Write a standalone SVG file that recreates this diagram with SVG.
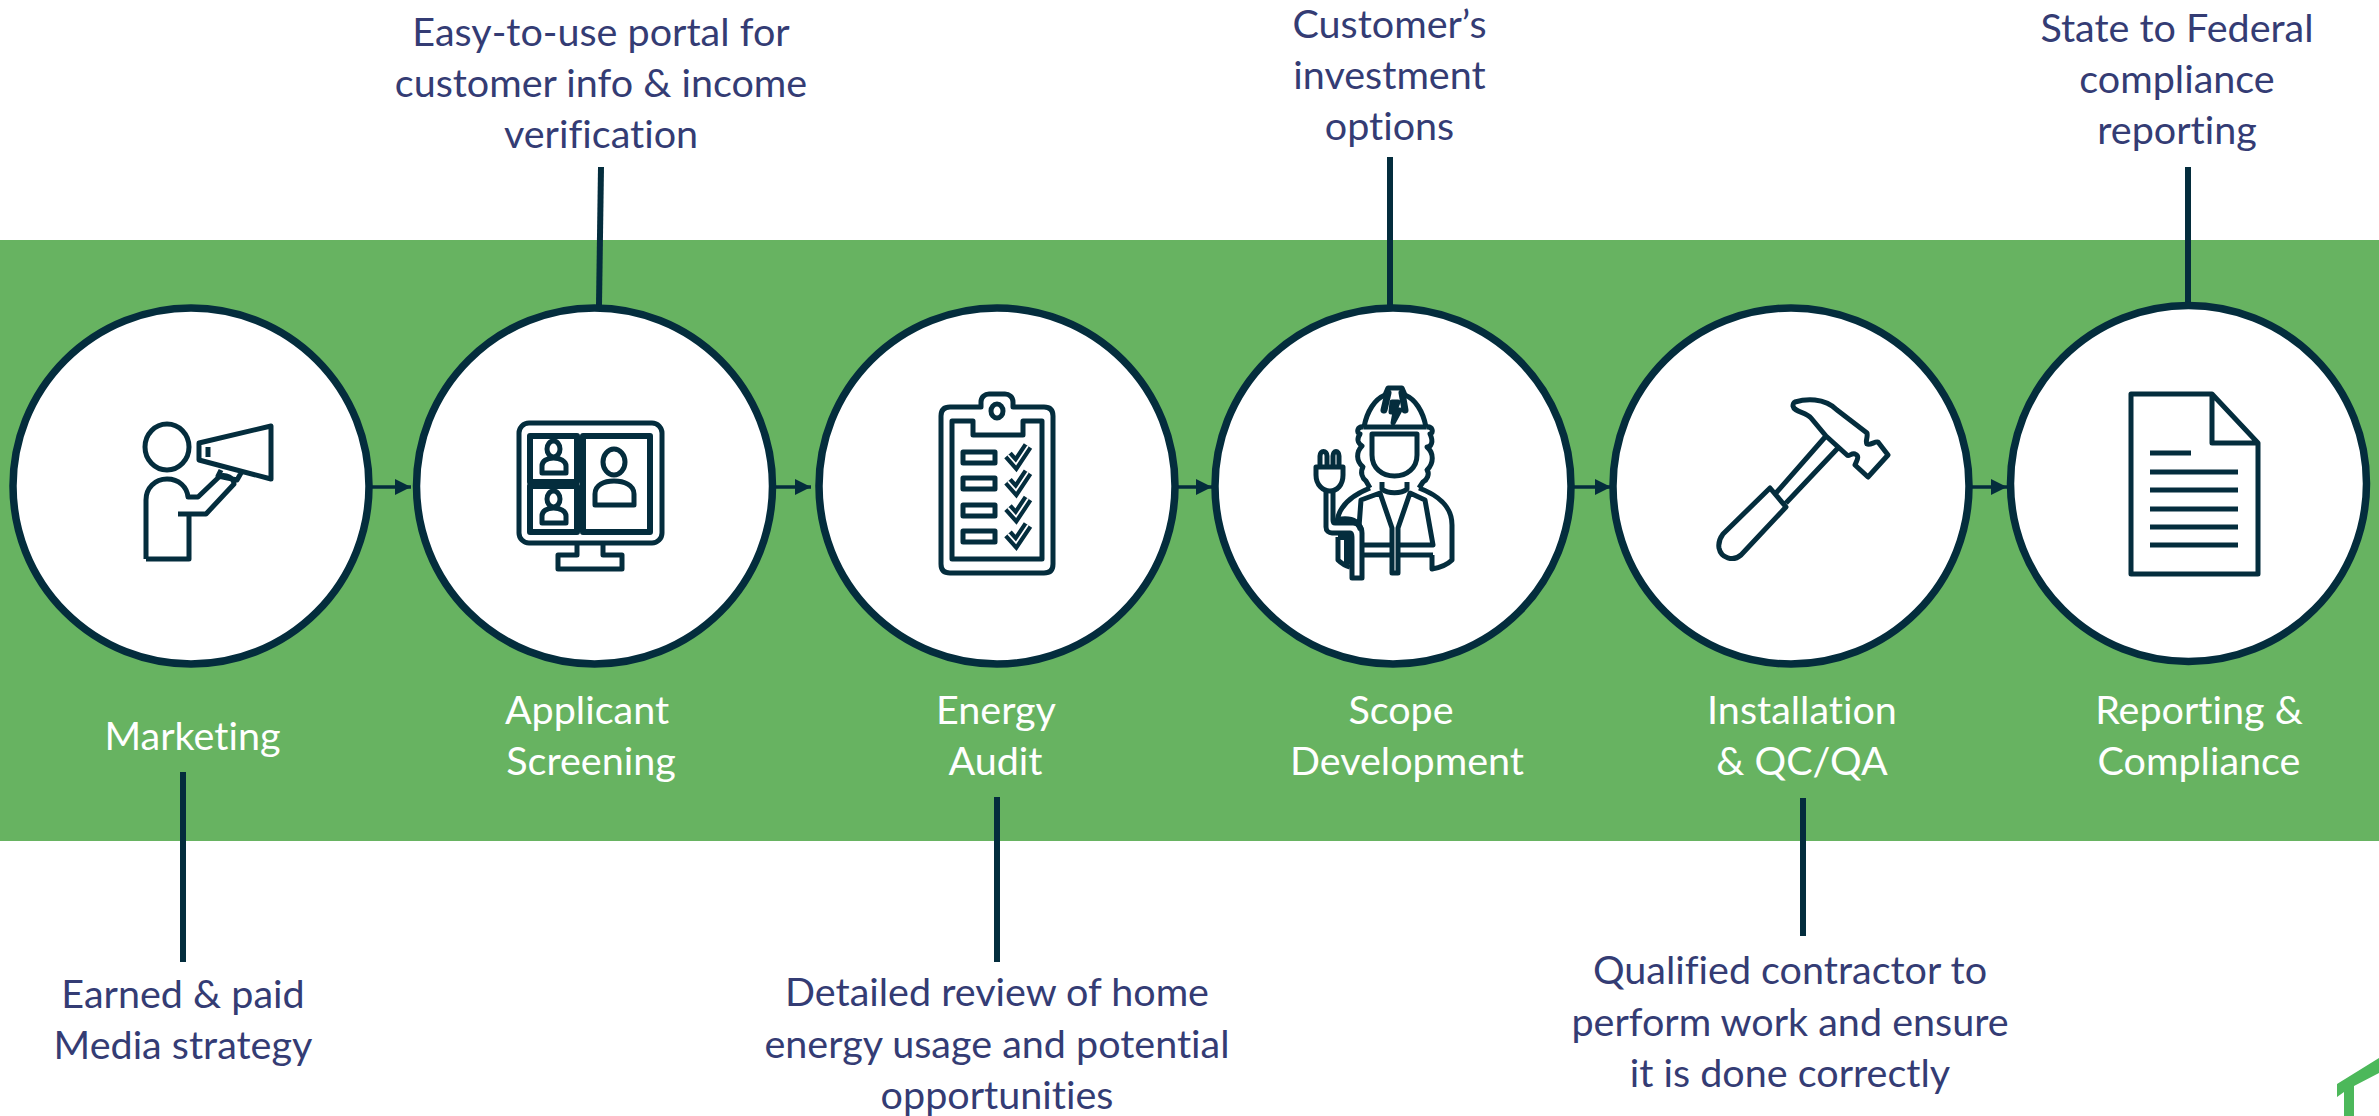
<svg xmlns="http://www.w3.org/2000/svg" width="2379" height="1116" viewBox="0 0 2379 1116">
<style>
text{font-family:"Lato","Carlito","Liberation Sans",sans-serif;font-size:39.5px;text-anchor:middle;font-variant-ligatures:none}
.d{fill:#343C74}.w{fill:#fff}
.c{fill:#fff;stroke:#042D3D;stroke-width:7.5}
.i{fill:none;stroke:#042D3D;stroke-width:5;stroke-linejoin:round}
.t{stroke:#042D3D;stroke-width:6;fill:none}
.a{stroke:#042D3D;stroke-width:3.5;fill:none}
</style>
<defs>
<marker id="ah" markerUnits="userSpaceOnUse" markerWidth="17" markerHeight="16" refX="16" refY="8" orient="auto"><path d="M0 0L16 8L0 16Z" fill="#042D3D"/></marker>
<g id="chk"><path d="M1008 455L1016 464L1028 446" fill="none" stroke="#042D3D" stroke-width="10"/><path d="M1008 455L1016 464L1028 446" fill="none" stroke="#fff" stroke-width="1.800"/></g>
<g id="mini"><ellipse cx="553.500" cy="449" rx="6.500" ry="8"/><path d="M542 473V466C542 461 547 458 553.500 458C560 458 566 461 566 466V473Z"/></g>
</defs>
<rect width="2379" height="1116" fill="#fff"/>
<rect y="240" width="2379" height="601" fill="#67B361"/>
<g id="connectors">
<path class="a" marker-end="url(#ah)" d="M371 487H411"/>
<path class="a" marker-end="url(#ah)" d="M773 487H811"/>
<path class="a" marker-end="url(#ah)" d="M1177 487H1212"/>
<path class="a" marker-end="url(#ah)" d="M1573 487H1611"/>
<path class="a" marker-end="url(#ah)" d="M1971 487H2007"/>
<path class="t" d="M601 167L599 305"/>
<path class="t" d="M1390 157V305"/>
<path class="t" d="M2188 167V303"/>
<path class="t" d="M183 772V962"/>
<path class="t" d="M997 797V962"/>
<path class="t" d="M1803 798V936"/>
</g>
<g id="marketing"><circle class="c" cx="191" cy="486" r="178"/>
<g class="i"><ellipse cx="167" cy="447" rx="22" ry="23"/><path d="M199 443L271 426V479L199 460ZM208 447V457M221 470L218 476L237 480L241 473M146 559V500C146 488 155 479 167 479C179 479 187 487 188 497H198L220 476C226 474 234 478 234 484L206 514H178M189 514V559H146"/></g>
<text class="w" x="192.500" y="750">Marketing</text></g>
<g id="applicant"><circle class="c" cx="594.500" cy="486" r="178"/>
<g class="i"><rect x="519" y="423" width="143" height="120" rx="10"/><rect x="530" y="436" width="47" height="46" stroke-width="6"/><rect x="530" y="486" width="47" height="46" stroke-width="6"/><rect x="583" y="436" width="67" height="96" stroke-width="6"/><path d="M577 543V555H558V569H622V555H603V543"/>
<ellipse cx="614" cy="462" rx="11" ry="13"/><path d="M595 505V494C595 485 604 481 614 481C624 481 634 485 634 494V505Z"/>
<use href="#mini"/><use href="#mini" y="50"/></g>
<text class="w" x="587" y="724">Applicant</text><text class="w" x="591" y="775">Screening</text></g>
<g id="audit"><circle class="c" cx="997" cy="486" r="178"/>
<g class="i"><path d="M950 407H981V402C981 397 985 394 989 394H1005C1009 394 1013 397 1013 402V407H1044C1050 407 1053 410 1053 416V564C1053 570 1050 573 1044 573H950C944 573 941 570 941 564V416C941 410 944 407 950 407Z"/><ellipse cx="997" cy="411" rx="6" ry="7"/><path d="M973 421H952V559H1042V421H1023V435H973Z"/>
<rect x="963" y="452" width="32" height="11"/><rect x="963" y="478" width="32" height="11"/><rect x="963" y="505" width="32" height="11"/><rect x="963" y="531" width="32" height="11"/></g>
<use href="#chk"/><use href="#chk" y="26.300"/><use href="#chk" y="52.600"/><use href="#chk" y="78.900"/>
<text class="w" x="996" y="724">Energy</text><text class="w" x="995.500" y="775">Audit</text></g>
<g id="scope"><circle class="c" cx="1393" cy="486" r="178"/>
<g class="i" stroke-width="4.500"><path d="M1364 427C1367 411 1375 399 1385 395M1426 427C1423 411 1415 399 1405 395"/><path d="M1385 395L1388 388H1402L1405 395"/><path d="M1384 410L1388 393M1405 410L1402 393" stroke-width="7" stroke-linecap="round"/><path d="M1392 402H1398L1395 410H1400L1393 423L1395 412H1391Z" fill="#042D3D"/>
<path d="M1364 427H1426M1364 427C1357 426 1356 433 1360 434C1356 440 1358 443 1362 446C1356 452 1356 461 1363 467C1360 472 1362 478 1366 481L1370 488M1426 427C1433 426 1434 433 1430 434C1434 442 1431 447 1427 447C1434 453 1434 463 1427 470C1430 474 1427 480 1423 482L1419 488"/>
<path d="M1372 434H1417V455C1417 468 1407 476 1394.500 476C1382 476 1372 468 1372 455Z"/>
<path d="M1382 482V489C1388 494 1401 494 1407 489V482M1370 488C1350 496 1338 507 1337 523M1419 488C1440 496 1452 507 1452 525V560C1446 566 1438 568 1432 569V555"/>
<path d="M1359 527L1361 500L1380 493L1392 528V573H1398V528L1410 493L1425 500L1433 545H1398M1392 545H1362M1363 555H1392M1398 555H1433"/>
<path d="M1320 467V456C1320 450 1327 450 1327 456V467M1333 467V456C1333 450 1339 450 1339 456V467M1316 467H1343V475C1343 485 1337 491 1330 491C1323 491 1316 485 1316 475Z"/>
<path d="M1326 491V527C1326 531 1329 533 1332 533H1350C1352 533 1352 536 1352 540V578H1362V533C1362 527 1358 523 1353 523H1335C1334 523 1333 522 1333 520V491"/>
<path d="M1338 537V560C1342 564 1346 566 1350 567" /><path d="M1338 537H1350M1347 537V564" stroke-width="6"/><path d="M1338 520C1350 518 1358 520 1361 530" stroke-width="6"/></g>
<text class="w" x="1401" y="724">Scope</text><text class="w" x="1407" y="775">Development</text></g>
<g id="install"><circle class="c" cx="1791" cy="486" r="178"/>
<g class="i"><path d="M1770 488L1786 507L1741 555C1733 562 1721 558 1719 548C1718 542 1720 538 1723 534ZM1826 436L1776 493M1837 449L1786 503M1795 402C1805 399 1824 397 1837 410L1867 433C1868 438 1865 441 1867 444C1870 446 1875 441 1878 442L1888 455L1868 477L1855 465C1857 460 1860 456 1855 454C1851 453 1849 457 1847 455L1826 436L1811 418C1806 412 1794 412 1793 406C1793 404 1793 403 1795 402Z"/></g>
<text class="w" x="1802" y="724">Installation</text><text class="w" x="1802" y="775">&amp; QC/QA</text></g>
<g id="reporting"><circle class="c" cx="2188.500" cy="483.500" r="178"/>
<g class="i"><path d="M2131 394H2212L2258 443V574H2131ZM2212 394V443H2258"/><path d="M2150 453H2191M2150 472H2238M2150 490H2238M2150 509H2238M2150 527H2238M2150 545H2238"/></g>
<text class="w" x="2199" y="724">Reporting &amp;</text><text class="w" x="2199" y="775">Compliance</text></g>
<text class="d" x="601" y="46">Easy-to-use portal for</text><text class="d" x="601" y="97">customer info &amp; income</text><text class="d" x="601" y="148">verification</text>
<text class="d" x="1389.500" y="38">Customer’s</text><text class="d" x="1389.500" y="89">investment</text><text class="d" x="1389.500" y="140">options</text>
<text class="d" x="2177" y="42">State to Federal</text><text class="d" x="2177" y="93">compliance</text><text class="d" x="2177" y="144">reporting</text>
<text class="d" x="183" y="1008">Earned &amp; paid</text><text class="d" x="183" y="1059">Media strategy</text>
<text class="d" x="997" y="1006">Detailed review of home</text><text class="d" x="997" y="1058">energy usage and potential</text><text class="d" x="997" y="1109">opportunities</text>
<text class="d" x="1790" y="984">Qualified contractor to</text><text class="d" x="1790" y="1036">perform work and ensure</text><text class="d" x="1790" y="1087">it is done correctly</text>
<path id="logo" d="M2337 1084L2379 1058V1073L2354 1086V1116H2344V1092L2337 1097Z" fill="#4CB85A"/>
</svg>
